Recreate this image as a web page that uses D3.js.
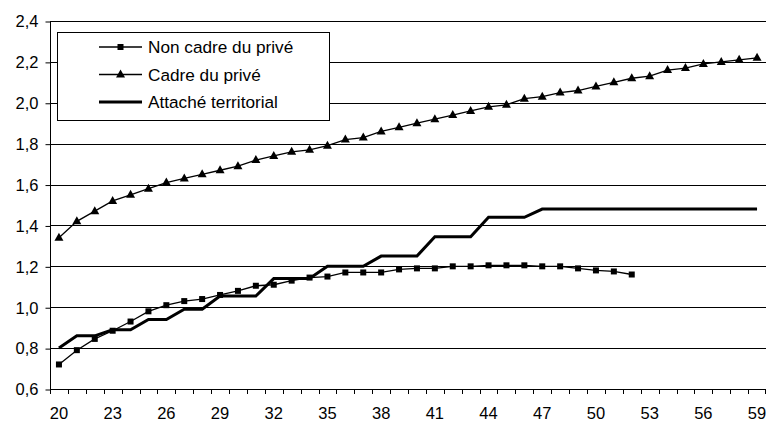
<!DOCTYPE html>
<html>
<head>
<meta charset="utf-8">
<script src="https://cdn.jsdelivr.net/npm/d3@7"></script>
<style>
  html, body { margin: 0; padding: 0; background: #fff; }
  svg { display: block; font-family: "Liberation Sans", Arial, sans-serif; }
</style>
</head>
<body>
<svg id="chart" width="766" height="421"></svg>
<script>
// ---- data ----
const ages = d3.range(20, 60);
const xTickLabels = ["20","23","26","29","32","35","38","41","44","47","50","53","56","59"];
const yTickValues = [0.6,0.8,1.0,1.2,1.4,1.6,1.8,2.0,2.2,2.4];

const nonCadreAges = d3.range(20, 53);
const nonCadre = [0.72,0.79,0.845,0.885,0.93,0.98,1.01,1.03,1.04,1.06,1.08,1.105,1.11,1.13,
  1.145,1.15,1.17,1.17,1.17,1.185,1.19,1.19,1.20,1.20,1.205,1.205,1.205,1.20,1.20,1.19,1.18,1.175,1.16];

const cadre = [1.34,1.42,1.47,1.52,1.55,1.58,1.61,1.63,1.65,1.67,1.69,1.72,1.74,1.76,1.77,1.79,
  1.82,1.83,1.86,1.88,1.90,1.92,1.94,1.96,1.98,1.99,2.02,2.03,2.05,2.06,2.08,2.10,2.12,2.13,
  2.16,2.17,2.19,2.20,2.21,2.22];

const attache = [0.80,0.86,0.86,0.89,0.89,0.94,0.94,0.99,0.99,1.055,1.055,1.055,1.14,1.14,1.14,
  1.20,1.20,1.20,1.25,1.25,1.25,1.345,1.345,1.345,1.44,1.44,1.44,1.48,1.48,1.48,1.48,1.48,1.48,
  1.48,1.48,1.48,1.48,1.48,1.48,1.48];

const seriesNames = ["Non cadre du privé", "Cadre du privé", "Attaché territorial"];

// ---- layout ----
const mLeft = 50, mRight = 766, mTop = 21, mBottom = 389;
const svg = d3.select("#chart");

const x = d3.scaleBand().domain(ages).range([mLeft, mRight]).padding(0);
const xc = d => x(d) + x.bandwidth() / 2;
const y = d3.scaleLinear().domain([0.6, 2.4]).range([mBottom, mTop]);

// gridlines
svg.append("g").selectAll("line").data(yTickValues.slice(1)).join("line")
  .attr("x1", mLeft).attr("x2", mRight)
  .attr("y1", d => Math.round(y(d)) + 0.5).attr("y2", d => Math.round(y(d)) + 0.5)
  .attr("stroke", "#000").attr("stroke-width", 1);

// y axis
const yAxis = d3.axisLeft(y).tickValues(yTickValues).tickSize(5).tickPadding(7)
  .tickFormat(d => d3.format(".1f")(d).replace(".", ","));
const gy = svg.append("g").attr("transform", `translate(${mLeft + 0.5},0.5)`).call(yAxis);
gy.select(".domain").attr("d", `M0,${mTop}V${mBottom}`).attr("stroke", "#000");
gy.selectAll(".tick line").attr("stroke", "#000");
gy.selectAll(".tick text").attr("font-size", 16.5).attr("fill", "#000")
  .attr("font-family", "Liberation Sans, Arial, sans-serif");

// x axis
svg.append("line").attr("x1", mLeft).attr("x2", mRight)
  .attr("y1", mBottom + 0.5).attr("y2", mBottom + 0.5).attr("stroke", "#000");
const boundaries = ages.map(d => x(d)).concat([mRight - 1]);
svg.append("g").selectAll("line").data(boundaries).join("line")
  .attr("x1", d => Math.round(d) + 0.5).attr("x2", d => Math.round(d) + 0.5)
  .attr("y1", mBottom).attr("y2", mBottom + 5).attr("stroke", "#000");
svg.append("g").selectAll("text").data(xTickLabels).join("text")
  .attr("x", d => xc(+d)).attr("y", 419)
  .attr("text-anchor", "middle").attr("font-size", 16.5).attr("fill", "#000")
  .text(d => d);

// lines
const line = d3.line().x(d => xc(d[0])).y(d => y(d[1]));
const ncPts = nonCadreAges.map((a, i) => [a, nonCadre[i]]);
const cPts = ages.map((a, i) => [a, cadre[i]]);
const aPts = ages.map((a, i) => [a, attache[i]]);

svg.append("path").datum(aPts).attr("d", line).attr("fill", "none")
  .attr("stroke", "#000").attr("stroke-width", 3).attr("stroke-linejoin", "miter");
svg.append("path").datum(ncPts).attr("d", line).attr("fill", "none")
  .attr("stroke", "#000").attr("stroke-width", 1.3);
svg.append("path").datum(cPts).attr("d", line).attr("fill", "none")
  .attr("stroke", "#000").attr("stroke-width", 1.3);

const sq = 6;
svg.append("g").selectAll("rect").data(ncPts).join("rect")
  .attr("x", d => xc(d[0]) - sq / 2).attr("y", d => y(d[1]) - sq / 2)
  .attr("width", sq).attr("height", sq).attr("fill", "#000");

const tri = (cx, cy) => `M${cx},${cy - 5}L${cx + 4.5},${cy + 3}L${cx - 4.5},${cy + 3}Z`;
svg.append("g").selectAll("path").data(cPts).join("path")
  .attr("d", d => tri(xc(d[0]), y(d[1]))).attr("fill", "#000");

// legend
const lg = svg.append("g");
lg.append("rect").attr("x", 57.5).attr("y", 32.5).attr("width", 272).attr("height", 88)
  .attr("fill", "#fff").attr("stroke", "#000").attr("stroke-width", 1);
const rowY = [47, 74.5, 102];
seriesNames.forEach((name, i) => {
  const ry = rowY[i];
  lg.append("line").attr("x1", 99).attr("x2", 142).attr("y1", ry).attr("y2", ry)
    .attr("stroke", "#000").attr("stroke-width", i === 2 ? 3 : 1.3);
  if (i === 0) lg.append("rect").attr("x", 120.5 - sq / 2).attr("y", ry - sq / 2)
    .attr("width", sq).attr("height", sq).attr("fill", "#000");
  if (i === 1) lg.append("path").attr("d", tri(120.5, ry)).attr("fill", "#000");
  lg.append("text").attr("x", 148).attr("y", ry + 6).attr("font-size", 17.2)
    .attr("fill", "#000").text(name);
});
</script>
</body>
</html>
